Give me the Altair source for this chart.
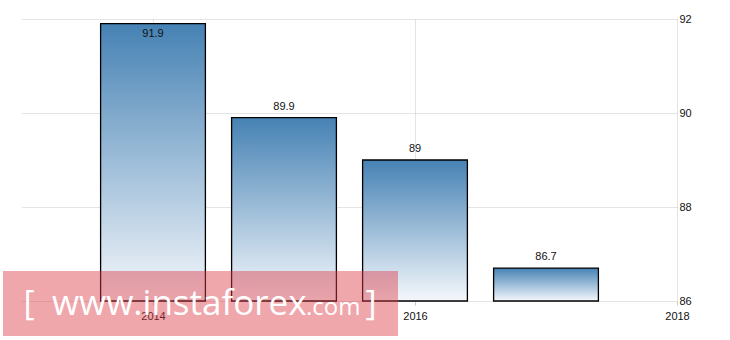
import altair as alt
import pandas as pd

years = [2014, 2015, 2016, 2017]
values = [91.9, 89.9, 89.0, 86.7]
labels = ["91.9", "89.9", "89", "86.7"]
x_ticks = [2014, 2016, 2018]
y_ticks = [86, 88, 90, 92]

df = pd.DataFrame({"year": years, "value": values, "label": labels})

gradient = alt.Gradient(
    gradient="linear",
    stops=[alt.GradientStop(color="#4682b4", offset=0),
           alt.GradientStop(color="#f5f8fc", offset=1)],
    x1=0, x2=0, y1=0, y2=1,
)

xscale = alt.Scale(domain=[2013, 2018], nice=False, zero=False)
yscale = alt.Scale(domain=[86, 92], nice=False, zero=False)

xaxis = alt.Axis(values=x_ticks, format="d", title=None, grid=True,
                 gridDash=[1, 1], gridColor="#c8c8c8", domain=False,
                 tickColor="#c8c8c8", tickSize=4, labelFontSize=11,
                 labelFont="Liberation Sans", labelColor="#111",
                 labelPadding=5, labelFlush=False)
yaxis = alt.Axis(values=y_ticks, orient="right", title=None, grid=True,
                 gridDash=[1, 1], gridColor="#c8c8c8", domain=False,
                 ticks=False, labelFontSize=11, labelFont="Liberation Sans",
                 labelColor="#111", labelPadding=2, labelBaseline="middle")

base = alt.Chart(df).transform_calculate(
    x0="datum.year - 0.4", x1="datum.year + 0.4"
)

bars = base.mark_bar(fill=gradient, stroke="black", strokeWidth=1.3).encode(
    x=alt.X("x0:Q", scale=xscale, axis=xaxis),
    x2="x1:Q",
    y=alt.Y("value:Q", scale=yscale, axis=yaxis),
    y2=alt.datum(86),
)

text_above = base.transform_filter("datum.value < 91.5").mark_text(
    dy=-11, baseline="middle", fontSize=11, font="Liberation Sans", color="#111"
).encode(x=alt.X("year:Q", scale=xscale), y=alt.Y("value:Q", scale=yscale), text="label:N")

text_inside = base.transform_filter("datum.value >= 91.5").mark_text(
    dy=10, baseline="middle", fontSize=11, font="Liberation Sans", color="#111"
).encode(x=alt.X("year:Q", scale=xscale), y=alt.Y("value:Q", scale=yscale), text="label:N")

one = pd.DataFrame({"a": [0]})
wm_rect = alt.Chart(one).mark_rect(color="rgb(220,60,70)", opacity=0.45).encode(
    x=alt.value(-19), x2=alt.value(376), y=alt.value(252), y2=alt.value(317)
)
wm_open = alt.Chart(one).mark_text(text="[", font="Open Sans", fontSize=34,
                                   color="white", align="center",
                                   baseline="alphabetic").encode(
    x=alt.value(7), y=alt.value(296))
wm_main = alt.Chart(one).mark_text(text="www.instaforex", font="Open Sans", fontSize=35,
                                   color="white", align="left",
                                   baseline="alphabetic").encode(
    x=alt.value(30), y=alt.value(296))
wm_com = alt.Chart(one).mark_text(text=".com", font="Open Sans", fontSize=24,
                                  color="white", align="left",
                                  baseline="alphabetic").encode(
    x=alt.value(284), y=alt.value(296))
wm_close = alt.Chart(one).mark_text(text="]", font="Open Sans", fontSize=34,
                                    color="white", align="center",
                                    baseline="alphabetic").encode(
    x=alt.value(349), y=alt.value(296))

chart = alt.layer(bars, text_above, text_inside, wm_rect, wm_open, wm_main, wm_com, wm_close).properties(
    width=655, height=282,
    autosize=alt.AutoSizeParams(type="none"),
    padding={"left": 22, "top": 19, "right": 53, "bottom": 39},
).configure(background="white", view=alt.ViewConfig(strokeWidth=0))

chart.save("out.html", embed_options={"renderer": "svg", "actions": False})
